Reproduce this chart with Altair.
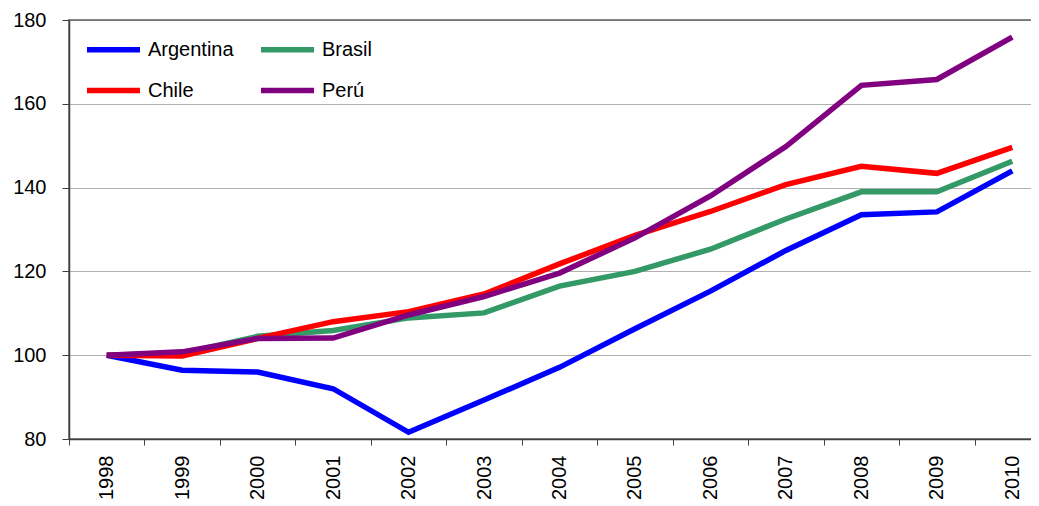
import altair as alt
import pandas as pd

years = [str(y) for y in range(1998, 2011)]
countries = ["Argentina", "Brasil", "Chile", "Perú"]
colors = ["#0000FF", "#339966", "#FF0000", "#800080"]

argentina = [100, 96.4, 96.0, 92.0, 81.6, 89.3, 97.1, 106.3, 115.3, 125.0, 133.5, 134.2, 144.0]
brasil = [100, 100.5, 104.5, 105.9, 108.9, 110.1, 116.5, 120.0, 125.3, 132.5, 139.0, 139.0, 146.3]
chile = [100, 99.8, 104.0, 108.0, 110.4, 114.6, 121.8, 128.6, 134.3, 140.7, 145.1, 143.4, 149.6]
peru = [100, 100.8, 104.0, 104.1, 109.6, 114.0, 119.6, 128.0, 138.0, 149.8, 164.4, 165.8, 175.9]

y_ticks = [80, 100, 120, 140, 160, 180]

series = {"Argentina": argentina, "Brasil": brasil, "Chile": chile, "Perú": peru}
rows = []
for c in countries:
    for yr, v in zip(years, series[c]):
        rows.append({"year": yr, "value": v, "country": c})
df = pd.DataFrame(rows)

FONT = "Liberation Sans"

chart = alt.Chart(df).mark_line(strokeWidth=5.5).encode(
    x=alt.X(
        "year:O",
        sort=years,
        scale=alt.Scale(type="band", paddingInner=0, paddingOuter=0),
        axis=alt.Axis(
            title=None,
            labelAngle=-90,
            tickBand="extent",
            labelFont=FONT,
            labelFontSize=20,
            labelColor="#000000",
            labelPadding=10,
            tickSize=6,
            tickColor="#404040",
            domainColor="#404040",
            domainWidth=1.5,
            grid=False,
        ),
    ),
    y=alt.Y(
        "value:Q",
        scale=alt.Scale(domain=[80, 180], nice=False, zero=False),
        axis=alt.Axis(
            title=None,
            values=y_ticks,
            labelFont=FONT,
            labelFontSize=20,
            labelColor="#000000",
            labelPadding=16,
            tickSize=7,
            tickColor="#404040",
            domainColor="#404040",
            domainWidth=1.5,
            grid=True,
            gridColor="#606060",
            gridDash=[1, 1],
            gridWidth=1,
        ),
    ),
    color=alt.Color(
        "country:N",
        scale=alt.Scale(domain=countries, range=colors),
        legend=alt.Legend(
            title=None,
            orient="none",
            direction="horizontal",
            legendX=15,
            legendY=0,
            columns=2,
            symbolType="stroke",
            symbolStrokeWidth=5.5,
            symbolSize=2809,
            labelFont=FONT,
            labelFontSize=20,
            labelColor="#000000",
            labelOffset=5,
            columnPadding=16,
            rowPadding=-6,
        ),
    ),
).properties(
    width=981,
    height=419,
    padding={"left": 61, "top": 12, "right": -19, "bottom": 67},
    autosize=alt.AutoSizeParams(type="none"),
).configure_view(
    stroke="#888888",
    strokeWidth=2,
)

chart.save("out.html", embed_options={"renderer": "svg", "actions": False})
